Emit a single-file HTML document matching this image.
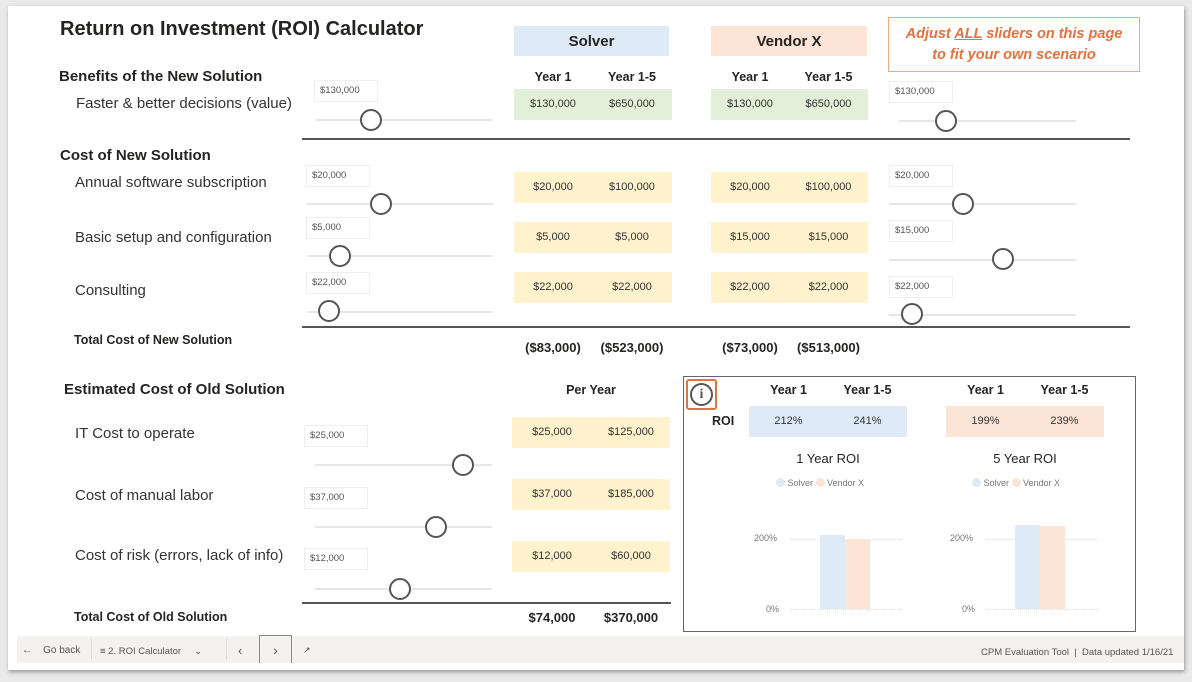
<!DOCTYPE html>
<html><head><meta charset="utf-8"><style>
*{margin:0;padding:0;box-sizing:border-box}
body{width:1192px;height:682px;background:#e9e9e9;font-family:"Liberation Sans",sans-serif;position:relative;overflow:hidden;color:#252423}
.a{position:absolute}
.frame{left:8px;top:6px;width:1176px;height:664px;background:#fff;box-shadow:1px 2px 4px rgba(0,0,0,.35)}
.h1{font-size:20px;font-weight:bold}
.h2{font-size:15px;font-weight:bold}
.lab{font-size:15px;color:#333}
.vb{width:64px;height:22px;border:1px solid #eee;font-size:9.5px;color:#555;padding:4px 0 0 5px;background:#fff}
.tr{height:2px;background:#e6e6e6}
.kn{width:22px;height:22px;border:2px solid #555;border-radius:50%;background:#fff}
.c{font-size:11px;text-align:center;padding-top:9px;color:#333}
.g{background:#e2efd9}.y{background:#fff2cc}.b{background:#deebf7}.o{background:#fce4d6}
.hd{font-size:12.5px;font-weight:bold;text-align:center}
.ln{height:2px;background:#555}
.tot{font-size:13px;font-weight:bold;text-align:center}
.sm{font-size:9px;color:#777}
.dot{display:inline-block;width:9px;height:9px;border-radius:50%;vertical-align:-1px}
</style></head><body>
<div class="a frame"></div>
<div class="a h1" style="left:60px;top:18px">Return on Investment (ROI) Calculator</div>
<div class="a b hd" style="left:514px;top:26px;width:155px;height:30px;font-size:15px;padding-top:7px">Solver</div>
<div class="a o hd" style="left:711px;top:26px;width:156px;height:30px;font-size:15px;padding-top:7px">Vendor X</div>
<div class="a" style="left:888px;top:17px;width:252px;height:55px;border:1px solid #f4a582;color:#e8703a;font-weight:bold;font-style:italic;font-size:14.5px;text-align:center;line-height:21px;padding-top:6px">Adjust <u>ALL</u> sliders on this page<br>to fit your own scenario</div>

<div class="a h2" style="left:59px;top:68px">Benefits of the New Solution</div>
<div class="a lab" style="left:76px;top:95px">Faster &amp; better decisions (value)</div>
<div class="a h2" style="left:60px;top:147px">Cost of New Solution</div>
<div class="a lab" style="left:75px;top:174px">Annual software subscription</div>
<div class="a lab" style="left:75px;top:229px">Basic setup and configuration</div>
<div class="a lab" style="left:75px;top:282px">Consulting</div>
<div class="a" style="left:74px;top:333px;font-size:12.5px;font-weight:bold">Total Cost of New Solution</div>
<div class="a h2" style="left:64px;top:381px">Estimated Cost of Old Solution</div>
<div class="a lab" style="left:75px;top:425px">IT Cost to operate</div>
<div class="a lab" style="left:75px;top:487px">Cost of manual labor</div>
<div class="a lab" style="left:75px;top:547px">Cost of risk (errors, lack of info)</div>
<div class="a" style="left:74px;top:610px;font-size:12.5px;font-weight:bold">Total Cost of Old Solution</div>

<div class="a hd" style="left:514px;top:70px;width:78px">Year 1</div>
<div class="a hd" style="left:592px;top:70px;width:80px">Year 1-5</div>
<div class="a hd" style="left:711px;top:70px;width:78px">Year 1</div>
<div class="a hd" style="left:789px;top:70px;width:79px">Year 1-5</div>

<div class="a c g" style="left:514px;top:89px;width:78px;height:31px">$130,000</div>
<div class="a c g" style="left:592px;top:89px;width:80px;height:31px">$650,000</div>
<div class="a c g" style="left:711px;top:89px;width:78px;height:31px">$130,000</div>
<div class="a c g" style="left:789px;top:89px;width:79px;height:31px">$650,000</div>

<div class="a c y" style="left:514px;top:172px;width:78px;height:31px">$20,000</div>
<div class="a c y" style="left:592px;top:172px;width:80px;height:31px">$100,000</div>
<div class="a c y" style="left:711px;top:172px;width:78px;height:31px">$20,000</div>
<div class="a c y" style="left:789px;top:172px;width:79px;height:31px">$100,000</div>

<div class="a c y" style="left:514px;top:222px;width:78px;height:31px">$5,000</div>
<div class="a c y" style="left:592px;top:222px;width:80px;height:31px">$5,000</div>
<div class="a c y" style="left:711px;top:222px;width:78px;height:31px">$15,000</div>
<div class="a c y" style="left:789px;top:222px;width:79px;height:31px">$15,000</div>

<div class="a c y" style="left:514px;top:272px;width:78px;height:31px">$22,000</div>
<div class="a c y" style="left:592px;top:272px;width:80px;height:31px">$22,000</div>
<div class="a c y" style="left:711px;top:272px;width:78px;height:31px">$22,000</div>
<div class="a c y" style="left:789px;top:272px;width:79px;height:31px">$22,000</div>

<div class="a tot" style="left:514px;top:340px;width:78px">($83,000)</div>
<div class="a tot" style="left:592px;top:340px;width:80px">($523,000)</div>
<div class="a tot" style="left:711px;top:340px;width:78px">($73,000)</div>
<div class="a tot" style="left:789px;top:340px;width:79px">($513,000)</div>

<div class="a hd" style="left:512px;top:383px;width:158px">Per Year</div>
<div class="a c y" style="left:512px;top:417px;width:80px;height:31px">$25,000</div>
<div class="a c y" style="left:592px;top:417px;width:78px;height:31px">$125,000</div>
<div class="a c y" style="left:512px;top:479px;width:80px;height:31px">$37,000</div>
<div class="a c y" style="left:592px;top:479px;width:78px;height:31px">$185,000</div>
<div class="a c y" style="left:512px;top:541px;width:80px;height:31px">$12,000</div>
<div class="a c y" style="left:592px;top:541px;width:78px;height:31px">$60,000</div>
<div class="a tot" style="left:512px;top:610px;width:80px">$74,000</div>
<div class="a tot" style="left:592px;top:610px;width:78px">$370,000</div>

<div class="a ln" style="left:302px;top:138px;width:828px;height:1.5px"></div>
<div class="a ln" style="left:302px;top:326px;width:828px;height:1.5px"></div>
<div class="a ln" style="left:302px;top:602px;width:369px;height:1.5px"></div>

<div class="a vb" style="left:314px;top:80px">$130,000</div><div class="a tr" style="left:316px;top:119px;width:176px"></div><div class="a kn" style="left:360px;top:109px"></div>
<div class="a vb" style="left:306px;top:165px">$20,000</div><div class="a tr" style="left:307px;top:203px;width:186px"></div><div class="a kn" style="left:370px;top:193px"></div>
<div class="a vb" style="left:306px;top:217px">$5,000</div><div class="a tr" style="left:307px;top:255px;width:186px"></div><div class="a kn" style="left:329px;top:245px"></div>
<div class="a vb" style="left:306px;top:272px">$22,000</div><div class="a tr" style="left:307px;top:311px;width:186px"></div><div class="a kn" style="left:318px;top:300px"></div>
<div class="a vb" style="left:304px;top:425px">$25,000</div><div class="a tr" style="left:315px;top:464px;width:177px"></div><div class="a kn" style="left:452px;top:454px"></div>
<div class="a vb" style="left:304px;top:487px">$37,000</div><div class="a tr" style="left:315px;top:526px;width:177px"></div><div class="a kn" style="left:425px;top:516px"></div>
<div class="a vb" style="left:304px;top:548px">$12,000</div><div class="a tr" style="left:315px;top:588px;width:177px"></div><div class="a kn" style="left:389px;top:578px"></div>
<div class="a vb" style="left:889px;top:81px">$130,000</div><div class="a tr" style="left:899px;top:120px;width:177px"></div><div class="a kn" style="left:935px;top:110px"></div>
<div class="a vb" style="left:889px;top:165px">$20,000</div><div class="a tr" style="left:889px;top:203px;width:187px"></div><div class="a kn" style="left:952px;top:193px"></div>
<div class="a vb" style="left:889px;top:220px">$15,000</div><div class="a tr" style="left:889px;top:259px;width:187px"></div><div class="a kn" style="left:992px;top:248px"></div>
<div class="a vb" style="left:889px;top:276px">$22,000</div><div class="a tr" style="left:889px;top:314px;width:187px"></div><div class="a kn" style="left:901px;top:303px"></div>

<div class="a" style="left:683px;top:376px;width:453px;height:256px;border:1.5px solid #666"></div>
<div class="a" style="left:686px;top:379px;width:31px;height:31px;border:2.5px solid #e8703a;border-radius:3px"></div>
<div class="a" style="left:690px;top:383px;width:23px;height:23px;border:2px solid #555;border-radius:50%;text-align:center;font-size:14px;font-weight:bold;color:#555;line-height:19px;font-family:'Liberation Serif',serif">i</div>
<div class="a hd" style="left:749px;top:383px;width:79px">Year 1</div>
<div class="a hd" style="left:828px;top:383px;width:79px">Year 1-5</div>
<div class="a hd" style="left:946px;top:383px;width:79px">Year 1</div>
<div class="a hd" style="left:1025px;top:383px;width:79px">Year 1-5</div>
<div class="a hd" style="left:712px;top:414px">ROI</div>
<div class="a c b" style="left:749px;top:406px;width:79px;height:31px">212%</div>
<div class="a c b" style="left:828px;top:406px;width:79px;height:31px">241%</div>
<div class="a c o" style="left:946px;top:406px;width:79px;height:31px">199%</div>
<div class="a c o" style="left:1025px;top:406px;width:79px;height:31px">239%</div>
<div class="a" style="left:749px;top:451px;width:158px;text-align:center;font-size:13px">1 Year ROI</div>
<div class="a" style="left:946px;top:451px;width:158px;text-align:center;font-size:13px">5 Year ROI</div>
<div class="a sm" style="left:776px;top:478px"><span class="dot b"></span> Solver <span class="dot o"></span> Vendor X</div>
<div class="a sm" style="left:972px;top:478px"><span class="dot b"></span> Solver <span class="dot o"></span> Vendor X</div>
<div class="a sm" style="left:754px;top:533px">200%</div>
<div class="a sm" style="left:766px;top:604px">0%</div>
<div class="a sm" style="left:950px;top:533px">200%</div>
<div class="a sm" style="left:962px;top:604px">0%</div>
<div class="a" style="left:790px;top:539px;width:112px;border-top:1px dotted #ddd"></div>
<div class="a" style="left:790px;top:609px;width:112px;border-top:1px dotted #ddd"></div>
<div class="a" style="left:985px;top:539px;width:112px;border-top:1px dotted #ddd"></div>
<div class="a" style="left:985px;top:609px;width:112px;border-top:1px dotted #ddd"></div>
<div class="a b" style="left:820px;top:535px;width:25px;height:74px"></div>
<div class="a o" style="left:845px;top:539px;width:25px;height:70px"></div>
<div class="a b" style="left:1015px;top:525px;width:25px;height:84px"></div>
<div class="a o" style="left:1040px;top:526px;width:25px;height:83px"></div>

<div class="a" style="left:17px;top:636px;width:1167px;height:27px;background:#f3f2f1"></div>
<div class="a" style="left:22px;top:645px;font-size:10px;color:#555">←&nbsp;&nbsp;&nbsp;&nbsp;Go back</div>
<div class="a" style="left:91px;top:638px;width:1px;height:22px;background:#ddd"></div>
<div class="a" style="left:100px;top:646px;font-size:9.5px;color:#555">≡ 2. ROI Calculator&nbsp;&nbsp;&nbsp;&nbsp;&nbsp;⌄</div>
<div class="a" style="left:226px;top:638px;width:1px;height:22px;background:#ddd"></div>
<div class="a" style="left:238px;top:643px;font-size:13px;color:#555">‹</div>
<div class="a" style="left:259px;top:635px;width:33px;height:28px;border:1.5px solid #888;border-bottom:none;text-align:center;font-size:14px;color:#555;padding-top:6px">›</div>
<div class="a" style="left:303px;top:645px;font-size:9px;color:#555">↗</div>
<div class="a" style="left:981px;top:647px;font-size:9.5px;color:#555">CPM Evaluation Tool &nbsp;|&nbsp; Data updated 1/16/21</div>
</body></html>
